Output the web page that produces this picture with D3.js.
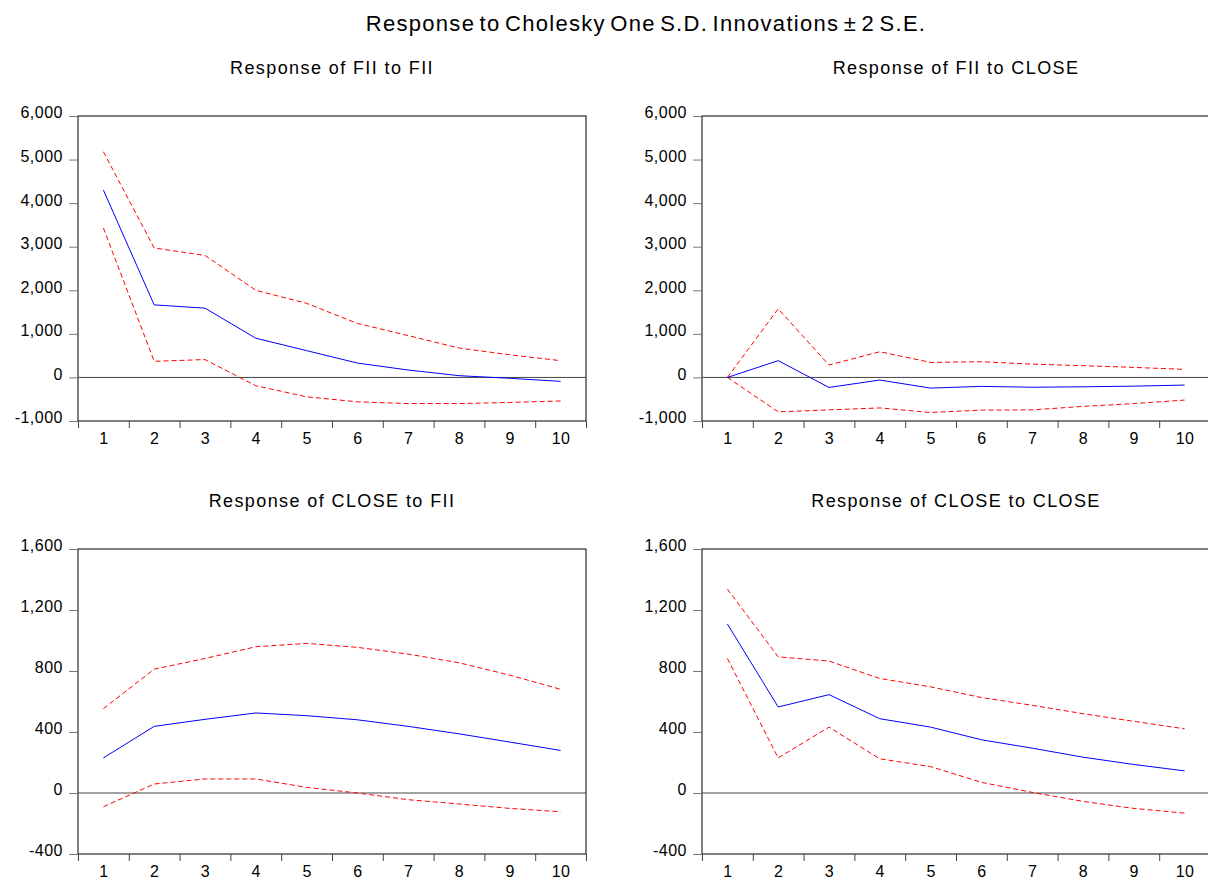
<!DOCTYPE html>
<html>
<head>
<meta charset="utf-8">
<script src="https://cdn.jsdelivr.net/npm/d3@7"></script>
<style>
    body { margin: 0; background: #fff; }
    svg { display: block; font-family: "Liberation Sans", Arial, sans-serif; }
</style>
</head>
<body>
<svg id="chart" width="1208" height="882"></svg>
<script>
// Periods after the shock (x-axis categories).
const periods = [1, 2, 3, 4, 5, 6, 7, 8, 9, 10];

// Response of FII to FII (impulse, upper and lower 2 S.E. bands).
const fiiFii = [4300, 1665, 1590, 900, 615, 330, 170, 40, -20, -90];
const fiiFiiUpper = [5180, 2970, 2800, 2000, 1700, 1240, 960, 675, 520, 385];
const fiiFiiLower = [3430, 370, 410, -190, -445, -560, -600, -600, -575, -540];

// Response of FII to CLOSE.
const fiiClose = [0, 385, -230, -60, -245, -205, -225, -215, -200, -175];
const fiiCloseUpper = [0, 1575, 285, 590, 345, 360, 305, 270, 230, 185];
const fiiCloseLower = [0, -790, -745, -700, -805, -750, -745, -665, -600, -520];

// Response of CLOSE to FII.
const closeFii = [230, 437, 483, 525, 507, 480, 437, 388, 334, 279];
const closeFiiUpper = [553, 812, 882, 959, 981, 955, 911, 854, 773, 680];
const closeFiiLower = [-90, 59, 92, 92, 37, 0, -44, -72, -101, -123];

// Response of CLOSE to CLOSE.
const closeClose = [1108, 564, 645, 487, 432, 349, 294, 235, 187, 145];
const closeCloseUpper = [1337, 893, 865, 751, 696, 626, 575, 520, 470, 421];
const closeCloseLower = [882, 230, 432, 224, 173, 70, 4, -55, -101, -132];

// Tick labels of the y-axes.
const fiiTicks = [-1000, 0, 1000, 2000, 3000, 4000, 5000, 6000];
const closeTicks = [-400, 0, 400, 800, 1200, 1600];

const panels = [
    { title: "Response of FII to FII", mid: fiiFii, up: fiiFiiUpper, lo: fiiFiiLower, ticks: fiiTicks, left: 78, top: 116 },
    { title: "Response of FII to CLOSE", mid: fiiClose, up: fiiCloseUpper, lo: fiiCloseLower, ticks: fiiTicks, left: 702, top: 116 },
    { title: "Response of CLOSE to FII", mid: closeFii, up: closeFiiUpper, lo: closeFiiLower, ticks: closeTicks, left: 78, top: 549 },
    { title: "Response of CLOSE to CLOSE", mid: closeClose, up: closeCloseUpper, lo: closeCloseLower, ticks: closeTicks, left: 702, top: 549 }
];

const svg = d3.select("#chart"),
    width = 508,
    height = 305;

// Thousands separator, plain hyphen for negatives (like the original).
const fmt = d => d3.format(",")(d).replace("\u2212", "-");

// Main title.
svg.append("text")
    .attr("x", 646).attr("y", 31)
    .attr("text-anchor", "middle")
    .style("font-size", "22px")
    .style("letter-spacing", "1.3px")
    .style("word-spacing", "-3px")
    .text("Response to Cholesky One S.D. Innovations \u00b1 2 S.E.");

panels.forEach(p => {
    const g = svg.append("g").attr("transform", `translate(${p.left},${p.top})`);

    // x: one band per period, labels in the middle of each band.
    const x = d3.scaleLinear().domain([0.5, 10.5]).range([0, width]);
    const y = d3.scaleLinear().domain(d3.extent(p.ticks)).range([height, 0]);

    // Panel title.
    g.append("text")
        .attr("x", width / 2).attr("y", -42)
        .attr("text-anchor", "middle")
        .style("font-size", "18px")
        .style("letter-spacing", "1.4px")
        .text(p.title);

    // Frame.
    g.append("rect")
        .attr("width", width).attr("height", height)
        .attr("fill", "none").attr("stroke", "#000").attr("stroke-width", 1);

    // y axis with grey ticks.
    const yAxis = g.append("g")
        .call(d3.axisLeft(y).tickValues(p.ticks).tickSize(9).tickPadding(6).tickFormat(fmt));
    yAxis.select(".domain").remove();
    yAxis.selectAll("line").attr("stroke", "#777");
    yAxis.selectAll("text")
        .attr("dy", "0.12em")
        .style("font-size", "16px").style("letter-spacing", "0.5px")
        .attr("fill", "#000");

    // x axis: tick marks at band edges, labels at band centres.
    const xTicks = g.append("g").attr("transform", `translate(0,${height})`)
        .call(d3.axisBottom(x).tickValues(d3.range(0.5, 11, 1)).tickSize(7).tickFormat(""));
    xTicks.select(".domain").remove();
    xTicks.selectAll("line").attr("stroke", "#444");

    const xLabels = g.append("g").attr("transform", `translate(0,${height})`)
        .call(d3.axisBottom(x).tickValues(periods).tickSize(0).tickPadding(12));
    xLabels.select(".domain").remove();
    xLabels.selectAll("text")
        .style("font-size", "16px").style("letter-spacing", "0.5px")
        .attr("fill", "#000");

    // Zero line.
    g.append("line")
        .attr("x1", 0).attr("x2", width)
        .attr("y1", y(0)).attr("y2", y(0))
        .attr("stroke", "#444").attr("stroke-width", 1);

    const line = d3.line()
        .x((d, i) => x(periods[i]))
        .y(d => y(d));

    // Confidence bands (red dashed).
    [p.up, p.lo].forEach(band => {
        g.append("path")
            .datum(band)
            .attr("d", line)
            .attr("fill", "none")
            .attr("stroke", "#ff0000")
            .attr("stroke-width", 1)
            .attr("stroke-dasharray", "5,3");
    });

    // Impulse response (blue).
    g.append("path")
        .datum(p.mid)
        .attr("d", line)
        .attr("fill", "none")
        .attr("stroke", "#0000ff")
        .attr("stroke-width", 1);
});
</script>
</body>
</html>
